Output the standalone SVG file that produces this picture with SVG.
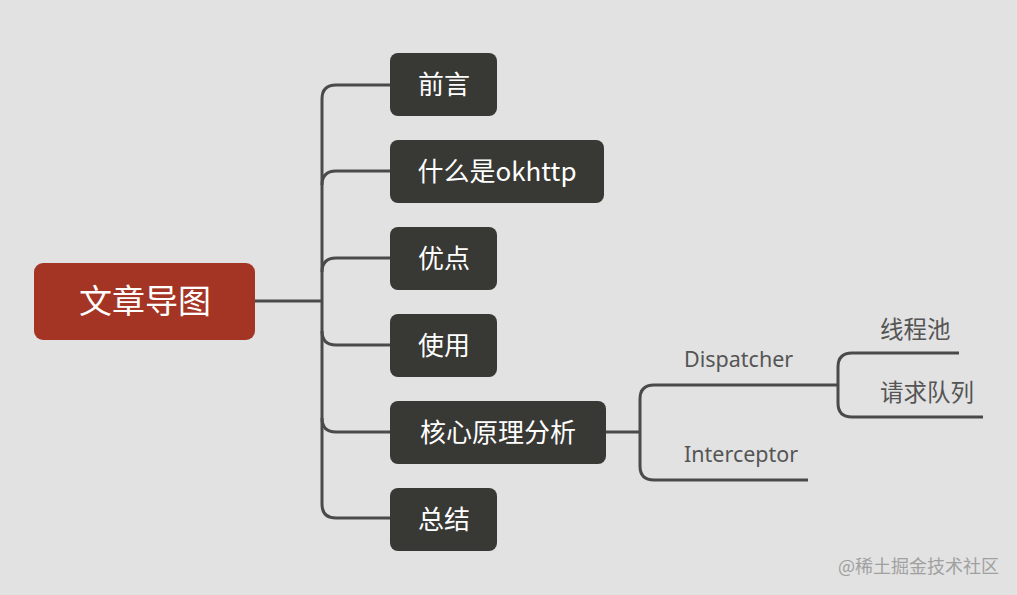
<svg xmlns="http://www.w3.org/2000/svg" width="1017" height="595" viewBox="0 0 1017 595">
<style>
.bg{fill:#e2e2e2}
.box{fill:#383834}
.root{fill:#a43524}
.t{font-family:"Noto Sans CJK SC","Noto Sans",sans-serif;fill:#ffffff}
.bt{font-size:26px}
.rt{font-size:33px}
.sub{font-family:"Noto Sans","Noto Sans CJK SC",sans-serif;fill:#555555;font-size:21.5px}
.subc{font-family:"Noto Sans CJK SC",sans-serif;fill:#555555;font-size:23.5px}
.ln{fill:none;stroke:#4a4a4a;stroke-width:3;stroke-linecap:butt}
.wm{font-family:"Noto Sans CJK SC",sans-serif;fill:#a0a0a0;font-size:18px}
</style>
<rect class="bg" x="0" y="0" width="1017" height="595"/>
<g id="connectors">
<path class="ln" d="M255 301 H322"/>
<path class="ln" d="M390 85 H336 Q322 85 322 99 V504 Q322 518 336 518 H390"/>
<path class="ln" d="M390 171 H336 Q322 171 322 185"/>
<path class="ln" d="M390 258 H336 Q322 258 322 272"/>
<path class="ln" d="M322 331 Q322 345 336 345 H390"/>
<path class="ln" d="M322 418 Q322 432 336 432 H390"/>
<path class="ln" d="M606 432 H640"/>
<path class="ln" d="M838 385 H654 Q640 385 640 399 V466 Q640 480 654 480 H808"/>
<path class="ln" d="M959 353 H852 Q838 353 838 367 V403 Q838 417 852 417 H983"/>
</g>
<g id="root">
<rect class="root" x="34" y="263" width="221" height="77" rx="9"/>
<text class="t rt" x="145" y="313" text-anchor="middle">文章导图</text>
</g>
<g id="n1">
<rect class="box" x="390" y="53" width="107" height="63" rx="8"/>
<text class="t bt" x="444" y="94" text-anchor="middle">前言</text>
</g>
<g id="n2">
<rect class="box" x="390" y="140" width="214" height="63" rx="8"/>
<text class="t bt" x="497" y="181" text-anchor="middle">什么是okhttp</text>
</g>
<g id="n3">
<rect class="box" x="390" y="227" width="107" height="63" rx="8"/>
<text class="t bt" x="444" y="268" text-anchor="middle">优点</text>
</g>
<g id="n4">
<rect class="box" x="390" y="314" width="107" height="63" rx="8"/>
<text class="t bt" x="444" y="355" text-anchor="middle">使用</text>
</g>
<g id="n5">
<rect class="box" x="390" y="401" width="216" height="63" rx="8"/>
<text class="t bt" x="498" y="442" text-anchor="middle">核心原理分析</text>
</g>
<g id="n6">
<rect class="box" x="390" y="488" width="107" height="63" rx="8"/>
<text class="t bt" x="444" y="529" text-anchor="middle">总结</text>
</g>
<g id="dispatcher">
<text class="sub" x="684" y="367">Dispatcher</text>
</g>
<g id="interceptor">
<text class="sub" x="684" y="462">Interceptor</text>
</g>
<g id="threadpool">
<text class="subc" x="880" y="338">线程池</text>
</g>
<g id="queue">
<text class="subc" x="880" y="401">请求队列</text>
</g>
<text class="wm" x="838" y="573">@稀土掘金技术社区</text>
</svg>
